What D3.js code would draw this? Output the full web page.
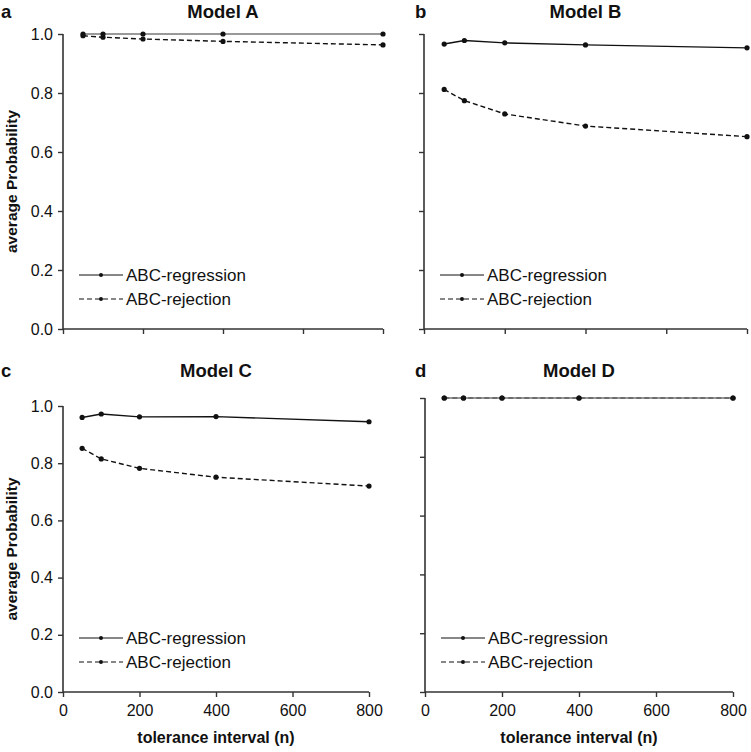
<!DOCTYPE html>
<html><head><meta charset="utf-8">
<script src="https://cdn.jsdelivr.net/npm/d3@7"></script>
<style>body{margin:0;background:#fff}svg{display:block}text{font-family:"Liberation Sans",Arial,sans-serif}</style>
</head><body><svg id="c" width="751" height="752"></svg>
<script>
const nValues = [50, 100, 200, 400, 800];
const xTicks = [0, 200, 400, 600, 800];
const yTicks = [0, 0.2, 0.4, 0.6, 0.8, 1.0];
const panelLetters = ["a", "b", "c", "d"];
const panelTitles = ["Model A", "Model B", "Model C", "Model D"];
const seriesNames = ["ABC-regression", "ABC-rejection"];
const regA = [1.0, 1.0, 1.0, 1.0, 1.0];
const rejA = [0.994, 0.989, 0.983, 0.975, 0.963];
const regB = [0.966, 0.978, 0.970, 0.963, 0.953];
const rejB = [0.812, 0.774, 0.729, 0.688, 0.652];
const regC = [0.960, 0.972, 0.962, 0.963, 0.945];
const rejC = [0.852, 0.815, 0.782, 0.751, 0.720];
const regD = [1.0, 1.0, 1.0, 1.0, 1.0];
const rejD = [1.0, 1.0, 1.0, 1.0, 1.0];
const errA = [0.004, 0.004, 0.004, 0.002, 0.002];
const errB = [0.006, 0.004, 0.003, 0.002, 0.002];
const errC = [0.008, 0.004, 0.003, 0.002, 0.002];
const errD = [0, 0, 0, 0, 0];

const svg = d3.select("#c");
const layouts = [
  {x0: 63, x1: 383, yTop: 34, yBot: 329, yLab: true, xLab: false, regColor: "#777"},
  {x0: 424, x1: 747, yTop: 34, yBot: 329, yLab: false, xLab: false, regColor: "#111"},
  {x0: 63, x1: 369, yTop: 406, yBot: 692, yLab: true, xLab: true, regColor: "#111"},
  {x0: 425, x1: 733, yTop: 398, yBot: 692, yLab: false, xLab: true, regColor: "#777"}
];
const regs = [regA, regB, regC, regD];
const rejs = [rejA, rejB, rejC, rejD];
const errs = [errA, errB, errC, errD];

layouts.forEach((L, i) => {
  const x = d3.scaleLinear().domain([0, 800]).range([L.x0, L.x1]);
  const y = d3.scaleLinear().domain([0, 1]).range([L.yBot, L.yTop]);
  const g = svg.append("g");
  const ya = g.append("g").attr("transform", `translate(${L.x0},0)`)
    .call(d3.axisLeft(y).tickValues(yTicks).tickSize(5).tickPadding(5)
      .tickFormat(L.yLab ? d3.format(".1f") : ""));
  const xa = g.append("g").attr("transform", `translate(0,${L.yBot})`)
    .call(d3.axisBottom(x).tickValues(xTicks).tickSize(5).tickPadding(8)
      .tickFormat(L.xLab ? d3.format("d") : ""));
  [ya, xa].forEach(a => {
    a.select(".domain").attr("stroke", "#333").attr("stroke-width", 1.6);
    a.selectAll(".tick line").attr("stroke", "#333").attr("stroke-width", 1.4);
    a.selectAll("text").attr("font-size", 16).attr("fill", "#111");
  });
  ya.select(".domain").attr("d", `M0,${L.yBot}V${L.yTop}`);
  xa.select(".domain").attr("d", `M${L.x0},0H${L.x1}`);

  const line = d3.line().x((d, j) => x(nValues[j])).y(d => y(d));
  g.append("path").datum(rejs[i]).attr("d", line).attr("fill", "none")
    .attr("stroke", "#111").attr("stroke-width", 1.4).attr("stroke-dasharray", "5,3");
  g.append("path").datum(regs[i]).attr("d", line).attr("fill", "none")
    .attr("stroke", L.regColor).attr("stroke-width", 1.4);
  [rejs[i], regs[i]].forEach(vals => {
    g.selectAll(null).data(vals).enter().append("line")
      .attr("x1", (d, j) => x(nValues[j])).attr("x2", (d, j) => x(nValues[j]))
      .attr("y1", (d, j) => y(d + errs[i][j])).attr("y2", (d, j) => y(d - errs[i][j]))
      .attr("stroke", "#111").attr("stroke-width", 1.2);
    g.selectAll(null).data(vals).enter().append("circle")
      .attr("cx", (d, j) => x(nValues[j])).attr("cy", d => y(d)).attr("r", 2.6).attr("fill", "#111");
  });

  const lx = L.x0 + 16;
  [0, 1].forEach(k => {
    const ly = L.yBot - 54 + k * 24;
    g.append("line").attr("x1", lx).attr("x2", lx + 44).attr("y1", ly).attr("y2", ly)
      .attr("stroke", "#111").attr("stroke-width", 1.2)
      .attr("stroke-dasharray", k === 1 ? "5,3" : null);
    g.append("circle").attr("cx", lx + 22).attr("cy", ly).attr("r", 2).attr("fill", "#111");
    g.append("text").attr("x", lx + 47).attr("y", ly + 6).attr("font-size", 17)
      .attr("fill", "#111").text(seriesNames[k]);
  });

  const tY = L.yTop < 100 ? 18 : 377;
  g.append("text").attr("x", (L.x0 + L.x1) / 2).attr("y", tY).attr("text-anchor", "middle")
    .attr("font-size", 18.5).attr("font-weight", "bold").attr("fill", "#111").text(panelTitles[i]);
  g.append("text").attr("x", L.x0 < 100 ? 1 : 415).attr("y", tY).attr("font-size", 18.5)
    .attr("font-weight", "bold").attr("fill", "#111").text(panelLetters[i]);

  if (L.yLab) {
    g.append("text").attr("transform", `translate(17,${(L.yTop + L.yBot) / 2}) rotate(-90)`)
      .attr("text-anchor", "middle").attr("font-size", 15.5).attr("font-weight", "bold")
      .attr("fill", "#111").text("average Probability");
  }
  if (L.xLab) {
    g.append("text").attr("x", (L.x0 + L.x1) / 2).attr("y", 743).attr("text-anchor", "middle")
      .attr("font-size", 16).attr("font-weight", "bold").attr("fill", "#111")
      .text("tolerance interval (n)");
  }
});
</script></body></html>
